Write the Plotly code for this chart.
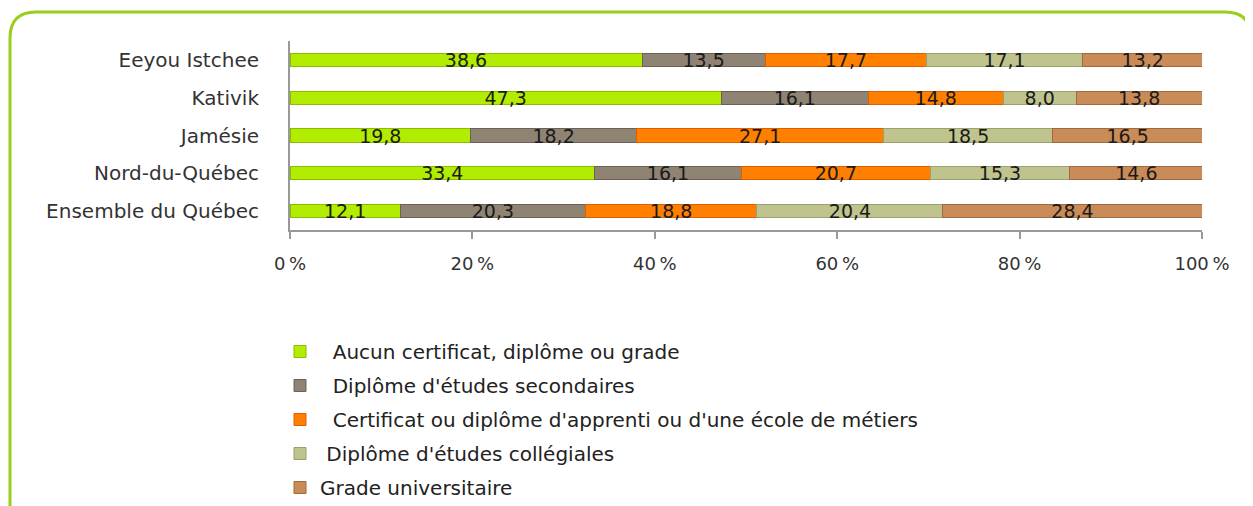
import plotly.graph_objects as go

categories = ["Eeyou Istchee", "Kativik", "Jamésie", "Nord-du-Québec", "Ensemble du Québec"]
series_names = [
    "\u00a0\u00a0Aucun certificat, diplôme ou grade",
    "\u00a0\u00a0Diplôme d'études secondaires",
    "\u00a0\u00a0Certificat ou diplôme d'apprenti ou d'une école de métiers",
    "\u00a0Diplôme d'études collégiales",
    "Grade universitaire",
]
aucun = [38.6, 47.3, 19.8, 33.4, 12.1]
secondaires = [13.5, 16.1, 18.2, 16.1, 20.3]
apprenti = [17.7, 14.8, 27.1, 20.7, 18.8]
collegiales = [17.1, 8.0, 18.5, 15.3, 20.4]
universitaire = [13.2, 13.8, 16.5, 14.6, 28.4]
tick_values = [0, 20, 40, 60, 80, 100]
tick_labels = ["0\u202f%", "20\u202f%", "40\u202f%", "60\u202f%", "80\u202f%", "100\u202f%"]

series_values = [aucun, secondaires, apprenti, collegiales, universitaire]
fill_colors = ["#B2EC00", "#8F8373", "#FF7F00", "#BFC48E", "#C98B58"]
line_colors = ["#8CBC00", "#6C6254", "#E05E00", "#9CA06C", "#A06A3C"]

FONT = "DejaVu Sans"
OFF = 8  # page body margin
W, H = 1253 - OFF, 506 - OFF
L, R, T, B = 290 - OFF, 51, 41 - OFF, 276
pw, ph = W - L - R, H - T - B


def px(x):
    return (x - OFF - L) / pw


def py(y):
    return (H - B - (y - OFF)) / ph


fig = go.Figure()
for name, vals, fc, lc in zip(series_names, series_values, fill_colors, line_colors):
    fig.add_trace(go.Bar(
        y=categories, x=vals, orientation="h", name=name,
        marker=dict(color=fc, line=dict(color=lc, width=1)),
        text=[f"{v:.1f}".replace(".", ",") for v in vals],
        textposition="inside", insidetextanchor="middle",
        textfont=dict(family=FONT, size=19, color="#1a1a1a"),
        constraintext="none",
        legendgroup=name,
        hoverinfo="x+y",
    ))

# rounded green frame (decoration), pixel units converted to paper coords
x0, y0, x1, y1, r = 10, 12, 1251, 530, 26
path = (f"M {px(x0)},{py(y0 + r)} Q {px(x0)},{py(y0)} {px(x0 + r)},{py(y0)} "
        f"L {px(x1 - r)},{py(y0)} Q {px(x1)},{py(y0)} {px(x1)},{py(y0 + r)} "
        f"L {px(x1)},{py(y1 - r)} Q {px(x1)},{py(y1)} {px(x1 - r)},{py(y1)} "
        f"L {px(x0 + r)},{py(y1)} Q {px(x0)},{py(y1)} {px(x0)},{py(y1 - r)} Z")

fig.update_layout(
    width=W, height=H,
    margin=dict(l=L, r=R, t=T, b=B, autoexpand=False),
    paper_bgcolor="white", plot_bgcolor="white",
    barmode="stack", bargap=0.65,
    font=dict(family=FONT, size=18, color="#333333"),
    shapes=[dict(type="path", xref="paper", yref="paper", path=path,
                 line=dict(color="#9ACD1E", width=3), layer="below")],
    legend=dict(
        x=px(280), y=py(332), xanchor="left", yanchor="top",
        traceorder="grouped", tracegroupgap=5,
        font=dict(family=FONT, size=20, color="#222222"),
        bgcolor="rgba(0,0,0,0)",
    ),
    showlegend=True,
)
fig.update_xaxes(
    range=[0, 100], tickmode="array", tickvals=tick_values, ticktext=tick_labels,
    showgrid=False, zeroline=False,
    showline=True, linecolor="#999999", linewidth=2,
    ticks="outside", ticklen=7, tickcolor="#999999", tickwidth=2,
    ticklabelstandoff=9,
    tickfont=dict(family=FONT, size=18, color="#333333"),
)
fig.update_yaxes(
    autorange="reversed", showgrid=False, zeroline=False,
    showline=True, linecolor="#999999", linewidth=2,
    ticks="", ticklabelstandoff=25,
    tickfont=dict(family=FONT, size=20, color="#333333"),
)
fig.write_html("out.html")
